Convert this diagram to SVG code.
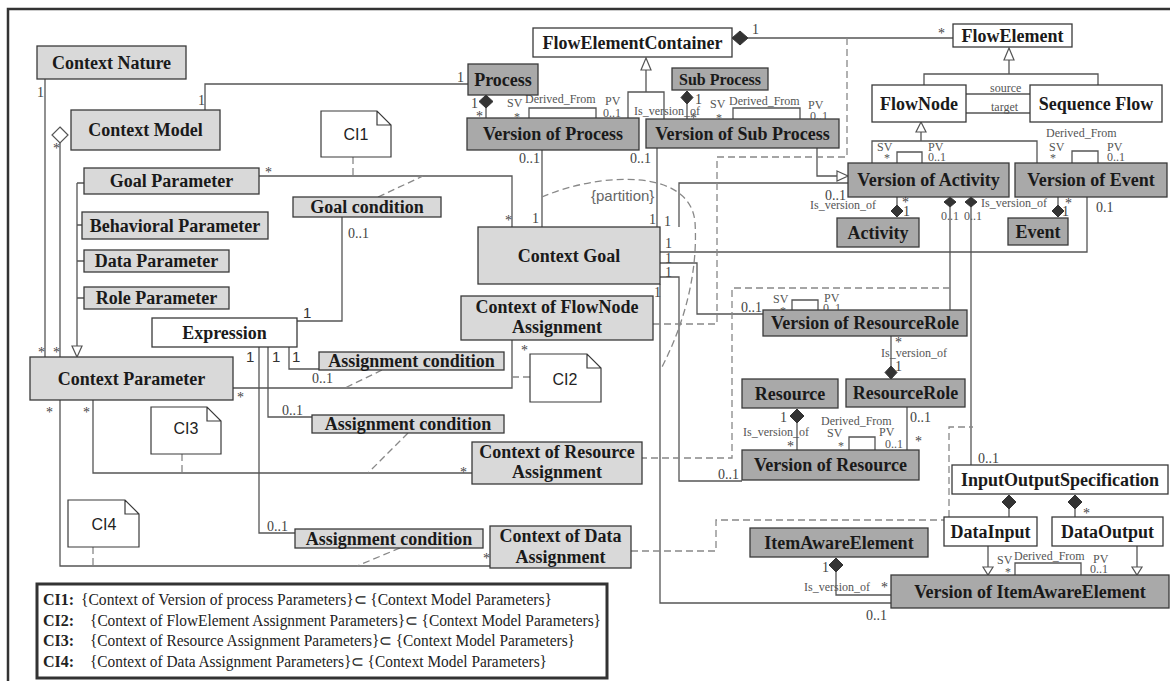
<svg xmlns="http://www.w3.org/2000/svg" width="1170" height="681" viewBox="0 0 1170 681">
<style>
.bg{fill:#fff}
.frame{fill:none;stroke:#333;stroke-width:2.5}
.n0{fill:#fff;stroke:#3a3a3a;stroke-width:1.3}
.n1{fill:#d9d9d9;stroke:#3a3a3a;stroke-width:1.3}
.n2{fill:#a9a9a9;stroke:#3a3a3a;stroke-width:1.3}
.t{font-family:"Liberation Serif","Times New Roman",serif;font-weight:bold;font-size:18px;fill:#1a1a1a;text-anchor:middle}
.t16{font-size:16px}
.l{fill:none;stroke:#555;stroke-width:1.3}
.d{fill:none;stroke:#888;stroke-width:1.3;stroke-dasharray:7,4}
.fd{fill:#333;stroke:#333;stroke-width:1}
.ht{fill:#fff;stroke:#555;stroke-width:1.2}
.hd{fill:#fff;stroke:#555;stroke-width:1.2}
.m{font-family:"Liberation Serif","Times New Roman",serif;font-size:14px;fill:#444}
.ms{font-family:"Liberation Sans",Arial,sans-serif;font-size:15px;fill:#333}
.s{font-family:"Liberation Serif","Times New Roman",serif;font-size:12px;fill:#555}
.note{fill:#fff;stroke:#3a3a3a;stroke-width:1.2}
.nt{font-family:"Liberation Sans",Arial,sans-serif;font-size:16px;fill:#222;text-anchor:middle}
.part{font-family:"Liberation Sans",Arial,sans-serif;font-size:15px;fill:#666}
.lg{fill:#fff;stroke:#333;stroke-width:3}
.lt{font-family:"Liberation Serif","Times New Roman",serif;font-size:16px;fill:#222}
.lb{font-weight:bold}
</style>
<rect class="bg" x="0" y="0" width="1170" height="681"/>
<path class="frame" d="M8,681 V9 H1170"/>

<g id="connectors">
  <path class="l" d="M45,79 V357"/>
  <text class="m" x="37" y="97">1</text>
  <text class="m" x="38" y="357">*</text>
  <path class="l" d="M60,143 V357"/>
  <polygon class="hd" points="60,127 68,135 60,143 52,135"/>
  <text class="m" x="53" y="153">*</text>
  <text class="m" x="53" y="357">*</text>
  <path class="l" d="M77,183 H84 M77,183 V346 M77,225 H82 M77,261 H84 M77,298 H84"/>
  <polygon class="ht" points="72,346 82,346 77,357"/>
  <path class="l" d="M205,110 V84 H468"/>
  <text class="m" x="198" y="105">1</text>
  <text class="m" x="457" y="82">1</text>
  <path class="l" d="M486,108 V118"/>
  <polygon class="fd" points="486,95 493,101.5 486,108 479,101.5"/>
  <text class="m" x="471" y="108">1</text>
  <text class="m" x="476" y="121">*</text>
  <path class="l" d="M529,118 V108 H596 V118"/>
  <text class="s" x="507" y="107">SV</text>
  <text class="s" x="514" y="121">*</text>
  <text class="s" x="525" y="103">Derived_From</text>
  <text class="s" x="605" y="105">PV</text>
  <text class="s" x="603" y="117">0..1</text>
  <path class="l" d="M748,38 H953"/>
  <polygon class="fd" points="732,38 740,31 748,38 740,45"/>
  <text class="m" x="752" y="34">1</text>
  <text class="m" x="938" y="38">*</text>
  <polygon class="ht" points="646,58 651,70 641,70"/>
  <path class="l" d="M646,70 V92 M628,118 V92 H664 V119"/>
  <path class="l" d="M687,104 V119"/>
  <polygon class="fd" points="687,91 693,97.5 687,104 681,97.5"/>
  <text class="m" x="695" y="104">1</text>
  <text class="m" x="690" y="123">*</text>
  <text class="s" x="634" y="115">Is_version_of</text>
  <path class="l" d="M733,119 V108 H800 V119"/>
  <text class="s" x="710" y="108">SV</text>
  <text class="s" x="716" y="122">*</text>
  <text class="s" x="729" y="105">Derived_From</text>
  <text class="s" x="808" y="109">PV</text>
  <text class="s" x="810" y="120">0..1</text>
  <path class="l" d="M817,148 V176 H837"/>
  <polygon class="ht" points="837,171 848,176 837,181"/>
  <path class="l" d="M679,227 V183 H848"/>
  <text class="m" x="825" y="200">0..1</text>
  <text class="m" x="664" y="226">1</text>
  <path class="l" d="M657,148 V227"/>
  <text class="m" x="630" y="163">0..1</text>
  <text class="m" x="649" y="224">1</text>
  <path class="l" d="M542,150 V227"/>
  <text class="m" x="519" y="163">0..1</text>
  <text class="m" x="532" y="223">1</text>
  <path class="l" d="M259,176 H512 V227"/>
  <text class="m" x="265" y="177">*</text>
  <text class="m" x="505" y="225">*</text>
  <path class="l" d="M342,217 V321 H297"/>
  <text class="m" x="348" y="238">0..1</text>
  <text class="ms" x="303" y="318">1</text>
  <path class="l" d="M289,347 V369 H319"/>
  <text class="ms" x="292" y="362">1</text>
  <path class="l" d="M268,347 V417 H312"/>
  <text class="ms" x="272" y="362">1</text>
  <text class="m" x="282" y="415">0..1</text>
  <path class="l" d="M259,347 V533 H295"/>
  <text class="ms" x="246" y="362">1</text>
  <text class="m" x="267" y="531">0..1</text>
  <path class="l" d="M233,388 H512 V340"/>
  <text class="m" x="237" y="402">*</text>
  <text class="m" x="521" y="355">*</text>
  <text class="m" x="312" y="383">0..1</text>
  <path class="l" d="M93,400 V473 H472"/>
  <text class="m" x="83" y="417">*</text>
  <text class="m" x="460" y="477">*</text>
  <path class="l" d="M60,400 V566 H490"/>
  <text class="m" x="46" y="417">*</text>
  <text class="m" x="483" y="563">*</text>
  <path class="l" d="M660,252 H1087 V197"/>
  <text class="m" x="665" y="248">1</text>
  <text class="m" x="1096" y="212">0.1</text>
  <path class="l" d="M660,263 H697 V314 H763"/>
  <text class="m" x="665" y="263">1</text>
  <text class="m" x="741" y="312">0..1</text>
  <path class="l" d="M660,277 H679 V481 H742"/>
  <text class="m" x="665" y="277">1</text>
  <text class="m" x="718" y="479">0..1</text>
  <path class="l" d="M660,284 V603 H891"/>
  <text class="m" x="654" y="297">1</text>
  <text class="m" x="866" y="620">0..1</text>
  <path class="l" d="M897,197 V205"/>
  <polygon class="fd" points="897,205 903,211 897,217 891,211"/>
  <text class="m" x="902" y="207">*</text>
  <text class="m" x="903" y="216">1</text>
  <text class="s" x="810" y="209">Is_version_of</text>
  <path class="l" d="M1058,197 V205"/>
  <polygon class="fd" points="1058,205 1064,211 1058,217 1052,211"/>
  <text class="m" x="1065" y="208">*</text>
  <text class="m" x="1062" y="216">1</text>
  <text class="s" x="981" y="207">Is_version_of</text>
  <path class="l" d="M950,207 V310"/>
  <polygon class="fd" points="950,197 956,202 950,207 944,202"/>
  <text class="s" x="941" y="220">0..1</text>
  <path class="l" d="M971,207 V465"/>
  <polygon class="fd" points="971,197 977,202 971,207 965,202"/>
  <text class="s" x="964" y="220">0..1</text>
  <text class="m" x="978" y="463">0..1</text>
  <polygon class="ht" points="1009,48 1014,60 1004,60"/>
  <path class="l" d="M1009,60 V74 M924,85 V74 H1098 V85"/>
  <path class="l" d="M966,94 H1030 M966,113 H1030"/>
  <text class="s" x="990" y="92">source</text>
  <text class="s" x="991" y="111">target</text>
  <polygon class="ht" points="921,122 926,132 916,132"/>
  <path class="l" d="M921,132 V141 M872,163 V141 H1037 V163"/>
  <path class="l" d="M897,163 V152 H922 V163"/>
  <text class="s" x="877" y="151">SV</text>
  <text class="s" x="884" y="162">*</text>
  <text class="s" x="928" y="151">PV</text>
  <text class="s" x="928" y="161">0..1</text>
  <path class="l" d="M1072,163 V151 H1098 V163"/>
  <text class="s" x="1046" y="137">Derived_From</text>
  <text class="s" x="1049" y="151">SV</text>
  <text class="s" x="1050" y="162">*</text>
  <text class="s" x="1107" y="151">PV</text>
  <text class="s" x="1107" y="161">0..1</text>
  <path class="l" d="M792,310 V300 H818 V310"/>
  <text class="s" x="773" y="303">SV</text>
  <text class="s" x="780" y="315">*</text>
  <text class="s" x="824" y="302">PV</text>
  <text class="s" x="823" y="312">0..1</text>
  <path class="l" d="M891,336 V366"/>
  <polygon class="fd" points="891,366 897,372.5 891,379 885,372.5"/>
  <text class="m" x="895" y="347">*</text>
  <text class="s" x="881" y="357">Is_version_of</text>
  <text class="m" x="895" y="371">1</text>
  <path class="l" d="M797,423 V450"/>
  <polygon class="fd" points="797,409 804,416 797,423 790,416"/>
  <text class="m" x="780" y="422">1</text>
  <text class="s" x="743" y="436">Is_version_of</text>
  <text class="m" x="787" y="451">*</text>
  <path class="l" d="M849,450 V437 H875 V450"/>
  <text class="s" x="821" y="425">Derived_From</text>
  <text class="s" x="827" y="437">SV</text>
  <text class="s" x="838" y="450">*</text>
  <text class="s" x="879" y="436">PV</text>
  <text class="s" x="885" y="448">0..1</text>
  <path class="l" d="M907,407 V450"/>
  <text class="m" x="910" y="422">0..1</text>
  <text class="m" x="915" y="446">*</text>
  <path class="l" d="M1009,509 V517 M1075,509 V517"/>
  <polygon class="fd" points="1009,495 1016,502 1009,509 1002,502"/>
  <polygon class="fd" points="1075,495 1082,502 1075,509 1068,502"/>
  <text class="m" x="1083" y="518">*</text>
  <path class="l" d="M988,546 V567 M1137,546 V567"/>
  <polygon class="ht" points="983,567 993,567 988,575"/>
  <polygon class="ht" points="1132,567 1142,567 1137,575"/>
  <path class="l" d="M1015,575 V563 H1081 V575"/>
  <text class="s" x="997" y="564">SV</text>
  <text class="s" x="1005" y="576">*</text>
  <text class="s" x="1014" y="560">Derived_From</text>
  <text class="s" x="1093" y="563">PV</text>
  <text class="s" x="1090" y="573">0..1</text>
  <path class="l" d="M836,572 V595 H891"/>
  <polygon class="fd" points="836,558 843,565 836,572 829,565"/>
  <text class="m" x="822" y="572">1</text>
  <text class="s" x="804" y="591">Is_version_of</text>
  <text class="m" x="881" y="592">*</text>

  <path class="d" d="M353,157 V176"/>
  <path class="d" d="M378,197 L423,176"/>
  <path class="d" d="M382,370 L345,388"/>
  <path class="d" d="M512,377 H530"/>
  <path class="d" d="M408,433 L368,473"/>
  <path class="d" d="M182,454 V473"/>
  <path class="d" d="M400,548 L357,566"/>
  <path class="d" d="M93,547 V566"/>
  <path class="d" d="M847,38 V157 H717 V324 H653"/>
  <path class="d" d="M950,288 H732 V458 H642"/>
  <path class="d" d="M631,551 H716 V520 H949 V427 H973"/>
  <path class="d" d="M542,197 C600,172 690,168 695,222 C698,270 686,320 662,367"/>
  <text class="part" x="591" y="201">{partition}</text>
</g>

<g id="ContextNature"><rect class="n1" x="37" y="46" width="149" height="33"/><text class="t" x="111.5" y="68.5">Context Nature</text></g>
<g id="ContextModel"><rect class="n1" x="71" y="110" width="149" height="40"/><text class="t" x="145.5" y="136">Context Model</text></g>
<g id="GoalParameter"><rect class="n1" x="84" y="168" width="175" height="26"/><text class="t" x="171.5" y="187">Goal Parameter</text></g>
<g id="BehavioralParameter"><rect class="n1" x="82" y="212" width="186" height="27"/><text class="t" x="175" y="231.5">Behavioral Parameter</text></g>
<g id="DataParameter"><rect class="n1" x="84" y="250" width="145" height="22"/><text class="t" x="156.5" y="267">Data Parameter</text></g>
<g id="RoleParameter"><rect class="n1" x="84" y="287" width="145" height="22"/><text class="t" x="156.5" y="304">Role Parameter</text></g>
<g id="ContextParameter"><rect class="n1" x="30" y="357" width="203" height="43"/><text class="t" x="131.5" y="384.5">Context Parameter</text></g>
<g id="Expression"><rect class="n0" x="152" y="318" width="145" height="29"/><text class="t" x="224.5" y="338.5">Expression</text></g>
<g id="GoalCondition"><rect class="n1" x="293" y="197" width="148" height="20"/><text class="t" x="367" y="213">Goal condition</text></g>
<g id="AssignmentCondition1"><rect class="n1" x="319" y="352" width="185" height="18"/><text class="t" x="411.5" y="367">Assignment condition</text></g>
<g id="AssignmentCondition2"><rect class="n1" x="312" y="415" width="192" height="18"/><text class="t" x="408" y="430">Assignment condition</text></g>
<g id="AssignmentCondition3"><rect class="n1" x="295" y="529" width="188" height="19"/><text class="t" x="389" y="544.5">Assignment condition</text></g>
<g id="ContextGoal"><rect class="n1" x="478" y="227" width="182" height="57"/><text class="t" x="569" y="261.5">Context Goal</text></g>
<g id="ContextFlowNodeAssignment"><rect class="n1" x="461" y="296" width="192" height="44"/><text class="t" x="557" y="313">Context of FlowNode</text><text class="t" x="557" y="333">Assignment</text></g>
<g id="ContextResourceAssignment"><rect class="n1" x="472" y="442" width="170" height="42"/><text class="t" x="557" y="458">Context of Resource</text><text class="t" x="557" y="478">Assignment</text></g>
<g id="ContextDataAssignment"><rect class="n1" x="490" y="526" width="141" height="42"/><text class="t" x="560.5" y="542">Context of Data</text><text class="t" x="560.5" y="563">Assignment</text></g>
<g id="Process"><rect class="n2" x="468" y="64" width="70" height="31"/><text class="t" x="503" y="85.5">Process</text></g>
<g id="VersionOfProcess"><rect class="n2" x="467" y="118" width="172" height="32"/><text class="t" x="553" y="140">Version of Process</text></g>
<g id="FlowElementContainer"><rect class="n0" x="533" y="28" width="199" height="29"/><text class="t" x="632.5" y="48.5">FlowElementContainer</text></g>
<g id="SubProcess"><rect class="n2" x="672" y="68" width="96" height="22"/><text class="t t16" x="720" y="84.5">Sub Process</text></g>
<g id="VersionOfSubProcess"><rect class="n2" x="646" y="119" width="193" height="29"/><text class="t" x="742.5" y="139.5">Version of Sub Process</text></g>
<g id="FlowElement"><rect class="n0" x="953" y="24" width="119" height="23"/><text class="t" x="1012.5" y="41.5">FlowElement</text></g>
<g id="FlowNode"><rect class="n0" x="872" y="85" width="94" height="37"/><text class="t" x="919" y="109.5">FlowNode</text></g>
<g id="SequenceFlow"><rect class="n0" x="1030" y="85" width="132" height="37"/><text class="t" x="1096" y="109.5">Sequence Flow</text></g>
<g id="VersionOfActivity"><rect class="n2" x="848" y="163" width="161" height="34"/><text class="t" x="928.5" y="186">Version of Activity</text></g>
<g id="VersionOfEvent"><rect class="n2" x="1015" y="163" width="152" height="34"/><text class="t" x="1091" y="186">Version of Event</text></g>
<g id="Activity"><rect class="n2" x="837" y="218" width="82" height="29"/><text class="t" x="878" y="238.5">Activity</text></g>
<g id="Event"><rect class="n2" x="1008" y="218" width="60" height="27"/><text class="t" x="1038" y="237.5">Event</text></g>
<g id="VersionOfResourceRole"><rect class="n2" x="763" y="310" width="204" height="26"/><text class="t" x="865" y="329">Version of ResourceRole</text></g>
<g id="Resource"><rect class="n2" x="742" y="379" width="96" height="29"/><text class="t" x="790" y="399.5">Resource</text></g>
<g id="ResourceRole"><rect class="n2" x="846" y="379" width="119" height="28"/><text class="t" x="905.5" y="399">ResourceRole</text></g>
<g id="VersionOfResource"><rect class="n2" x="742" y="450" width="177" height="30"/><text class="t" x="830.5" y="471">Version of Resource</text></g>
<g id="InputOutputSpecification"><rect class="n0" x="952" y="465" width="216" height="29"/><text class="t" x="1060" y="485.5">InputOutputSpecification</text></g>
<g id="DataInput"><rect class="n0" x="944" y="517" width="93" height="29"/><text class="t" x="990.5" y="537.5">DataInput</text></g>
<g id="DataOutput"><rect class="n0" x="1052" y="517" width="111" height="29"/><text class="t" x="1107.5" y="537.5">DataOutput</text></g>
<g id="ItemAwareElement"><rect class="n2" x="750" y="528" width="178" height="29"/><text class="t" x="839" y="548.5">ItemAwareElement</text></g>
<g id="VersionOfItemAwareElement"><rect class="n2" x="891" y="575" width="278" height="33"/><text class="t" x="1030" y="597.5">Version of ItemAwareElement</text></g>

<g id="CI1"><path class="note" d="M321,111 H377 L391,125 V157 H321 Z M377,111 V125 H391"/><text class="nt" x="356" y="140">CI1</text></g>
<g id="CI2"><path class="note" d="M530,354 H587 L601,368 V402 H530 Z M587,354 V368 H601"/><text class="nt" x="565" y="385">CI2</text></g>
<g id="CI3"><path class="note" d="M151,407 H207 L221,421 V454 H151 Z M207,407 V421 H221"/><text class="nt" x="186" y="434">CI3</text></g>
<g id="CI4"><path class="note" d="M68,500 H125 L139,514 V547 H68 Z M125,500 V514 H139"/><text class="nt" x="104" y="530">CI4</text></g>

<g id="legend">
  <rect class="lg" x="37" y="584" width="570" height="94"/>
  <text class="lt" y="605"><tspan class="lb" x="43">CI1:</tspan><tspan x="81" textLength="471" lengthAdjust="spacingAndGlyphs">{Context of Version of process Parameters}⊂ {Context Model Parameters}</tspan></text>
  <text class="lt" y="626"><tspan class="lb" x="43">CI2:</tspan><tspan x="90" textLength="511" lengthAdjust="spacingAndGlyphs">{Context of FlowElement Assignment Parameters}⊂  {Context Model Parameters}</tspan></text>
  <text class="lt" y="646"><tspan class="lb" x="43">CI3:</tspan><tspan x="90" textLength="485" lengthAdjust="spacingAndGlyphs">{Context of Resource Assignment Parameters}⊂ {Context Model Parameters}</tspan></text>
  <text class="lt" y="667"><tspan class="lb" x="43">CI4:</tspan><tspan x="90" textLength="457" lengthAdjust="spacingAndGlyphs">{Context of Data Assignment Parameters}⊂ {Context Model Parameters}</tspan></text>
</g>
</svg>
